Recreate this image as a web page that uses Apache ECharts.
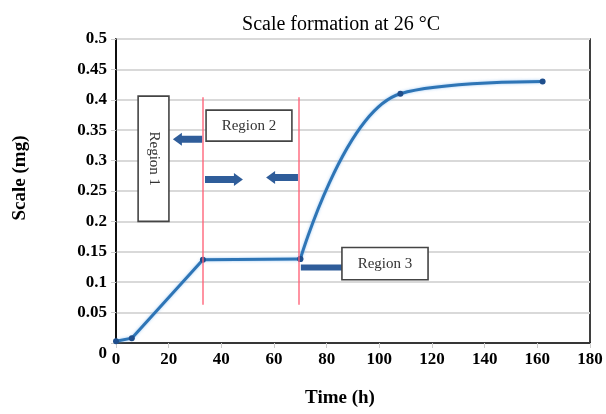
<!DOCTYPE html>
<html>
<head>
<meta charset="utf-8">
<script src="https://cdn.jsdelivr.net/npm/echarts@6/dist/echarts.min.js"></script>
<style>
html,body{margin:0;padding:0;background:#fff;}
#chart{width:606px;height:414px;}
</style>
</head>
<body>
<div id="chart"></div>
<script>
// ---- data ----
var titleText = 'Scale formation at 26 °C';
var xAxisName = 'Time (h)';
var yAxisName = 'Scale (mg)';
// straight segments (region 1 and 2)
var linearTime  = [0, 6, 33, 70];
var linearScale = [0.003, 0.008, 0.137, 0.138];
// smoothed segment (region 3)
var curveTime  = [70, 108, 162];
var curveScale = [0.138, 0.41, 0.43];
// region boundaries (h)
var regionBounds = [33, 69.5];
var regionLineSpan = [0.063, 0.404];
// annotation labels
var regionLabels = ['Region 1', 'Region 2', 'Region 3'];

function pairs(xs, ys){ return xs.map(function(x,i){ return [x, ys[i]]; }); }

var serif = 'Liberation Serif, Times New Roman, serif';
var chart = echarts.init(document.getElementById('chart'));

var option = {
  backgroundColor: '#fff',
  animation: false,
  title: {
    text: titleText, left: 336, top: 10, textAlign: 'center',
    textStyle: {fontFamily: serif, fontSize: 20, fontWeight: 'normal', color: '#000'}
  },
  grid: {left: 116, right: 16, top: 39, bottom: 71, show: true, borderColor: '#000', borderWidth: 1.5},
  xAxis: {
    type: 'value', min: 0, max: 180, interval: 20,
    name: xAxisName, nameLocation: 'middle', nameGap: 46,
    nameTextStyle: {fontFamily: serif, fontSize: 19, fontWeight: 'bold', color: '#000', padding: [0, 26, 0, 0]},
    axisLine: {show: true, lineStyle: {color: '#000', width: 1.5}},
    axisTick: {show: true, length: 5, lineStyle: {color: '#ccc'}},
    splitLine: {show: false},
    axisLabel: {margin: 8, fontFamily: serif, fontSize: 17, fontWeight: 'bold', color: '#000'}
  },
  yAxis: {
    type: 'value', min: 0, max: 0.5, interval: 0.05,
    name: yAxisName, nameLocation: 'middle', nameGap: 86,
    nameTextStyle: {fontFamily: serif, fontSize: 19, fontWeight: 'bold', color: '#000', padding: [0, 0, 0, 26]},
    axisLine: {show: true, lineStyle: {color: '#000', width: 1.5}},
    axisTick: {show: true, length: 5, lineStyle: {color: '#ccc'}},
    splitLine: {show: true, lineStyle: {color: '#d9d9d9', width: 2}},
    axisLabel: {
      margin: 9, fontFamily: serif, fontSize: 17, fontWeight: 'bold', color: '#000',
      formatter: function(v){ return v === 0 ? '{z|0}' : String(+v.toFixed(2)); },
      rich: {z: {fontFamily: serif, fontSize: 17, fontWeight: 'bold', color: '#000', padding: [22, 0, 0, 0]}}
    }
  },
  series: [
    {
      type: 'line', data: pairs(linearTime, linearScale), smooth: false,
      symbol: 'circle', symbolSize: 6,
      lineStyle: {color: '#2e75b6', width: 3, shadowColor: 'rgba(120,180,240,0.7)', shadowBlur: 3},
      itemStyle: {color: '#1f4e8c'},
      markLine: {
        silent: true, symbol: 'none', label: {show: false},
        lineStyle: {color: '#ff5f75', width: 1.5, type: 'solid', opacity: 0.9},
        emphasis: {disabled: true},
        data: regionBounds.map(function(b){ return [{coord: [b, regionLineSpan[1]]}, {coord: [b, regionLineSpan[0]]}]; })
      },
      z: 3
    },
    {
      type: 'line', data: pairs(curveTime, curveScale), smooth: 0.4,
      symbol: 'circle', symbolSize: 6,
      lineStyle: {color: '#2e75b6', width: 3, shadowColor: 'rgba(120,180,240,0.7)', shadowBlur: 3},
      itemStyle: {color: '#1f4e8c'},
      z: 3
    }
  ]
};
chart.setOption(option);

// ---- annotations positioned in data space ----
function px(p){ return chart.convertToPixel({gridIndex: 0}, p); }
var arrowColor = '#2f5d9a';
function arrow(x0, x1, y, dir){
  var a = px([x0, y]), b = px([x1, y]);
  var yy = a[1], L = Math.min(a[0], b[0]), R = Math.max(a[0], b[0]);
  var t = 3.5, h = 6.5, hl = 9;
  var pts;
  if (dir > 0) {
    pts = [[L, yy - t], [R - hl, yy - t], [R - hl, yy - h], [R, yy], [R - hl, yy + h], [R - hl, yy + t], [L, yy + t]];
  } else {
    pts = [[R, yy - t], [L + hl, yy - t], [L + hl, yy - h], [L, yy], [L + hl, yy + h], [L + hl, yy + t], [R, yy + t]];
  }
  return {type: 'polygon', shape: {points: pts}, style: {fill: arrowColor}, z: 10};
}
function box(x0, x1, y0, y1, label, vertical){
  var a = px([x0, y1]), b = px([x1, y0]);
  var w = b[0] - a[0], h = b[1] - a[1];
  var els = [{type: 'rect', shape: {x: a[0], y: a[1], width: w, height: h},
    style: {fill: '#fff', stroke: '#444', lineWidth: 1.6}, z: 11}];
  var cx = a[0] + w / 2, cy = a[1] + h / 2;
  els.push({type: 'text', x: cx, y: cy, rotation: vertical ? -Math.PI / 2 : 0,
    style: {text: label, fontFamily: serif, fontSize: 15, fill: '#333', align: 'center', verticalAlign: 'middle'}, z: 12});
  return els;
}
function connector(x0, x1, y){
  var a = px([x0, y]), b = px([x1, y]);
  return {type: 'rect', shape: {x: a[0], y: a[1] - 3, width: b[0] - a[0], height: 6}, style: {fill: arrowColor}, z: 10};
}
var g = [];
g = g.concat(box(8.4, 20.1, 0.2, 0.406, regionLabels[0], true));
g = g.concat(box(34.2, 66.8, 0.332, 0.383, regionLabels[1], false));
g = g.concat(box(85.8, 118.5, 0.104, 0.157, regionLabels[2], false));
g.push(arrow(21.6, 32.7, 0.335, -1));
g.push(arrow(33.8, 48.2, 0.269, 1));
g.push(arrow(57, 69.1, 0.272, -1));
g.push(connector(70.2, 86, 0.124));
chart.setOption({graphic: {elements: g}});
</script>
</body>
</html>
